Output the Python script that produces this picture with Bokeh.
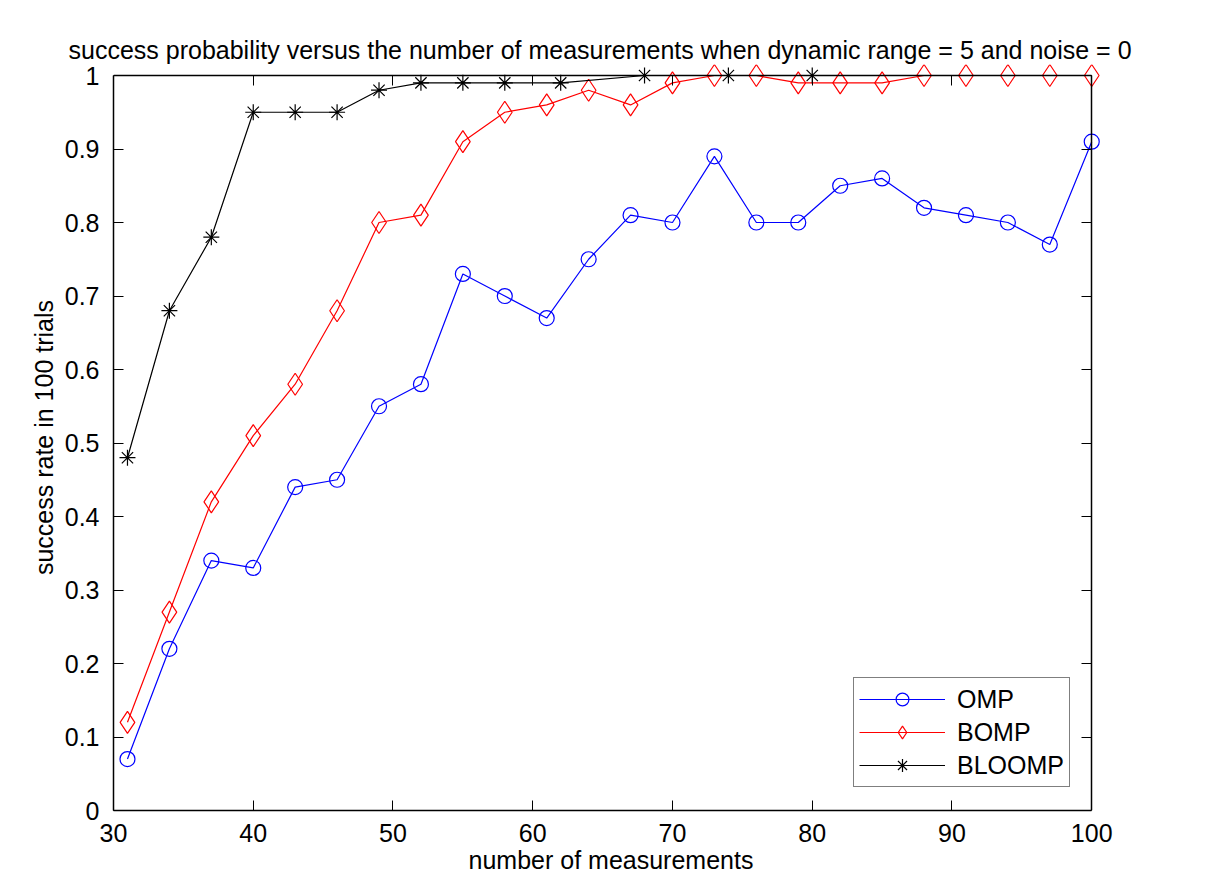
from bokeh.plotting import figure
from bokeh.models import LinearAxis, FixedTicker, Range1d, Legend, LegendItem
from bokeh.embed import file_html
from bokeh.resources import INLINE

title_text = "success probability versus the number of measurements when dynamic range = 5 and noise = 0"
x_label = "number of measurements"
y_label = "success rate in 100 trials"

measurements = [31, 34, 37, 40, 43, 46, 49, 52, 55, 58, 61, 64,
                67, 70, 73, 76, 79, 82, 85, 88, 91, 94, 97, 100]
omp = [0.07, 0.22, 0.34, 0.33, 0.44, 0.45, 0.55, 0.58, 0.73, 0.70, 0.67, 0.75,
       0.81, 0.80, 0.89, 0.80, 0.80, 0.85, 0.86, 0.82, 0.81, 0.80, 0.77, 0.91]
bomp = [0.12, 0.27, 0.42, 0.51, 0.58, 0.68, 0.80, 0.81, 0.91, 0.95, 0.96, 0.98,
        0.96, 0.99, 1.00, 1.00, 0.99, 0.99, 0.99, 1.00, 1.00, 1.00, 1.00, 1.00]
bloomp_measurements = [31, 34, 37, 40, 43, 46, 49, 52, 55, 58, 62, 68, 74, 80]
bloomp = [0.48, 0.68, 0.78, 0.95, 0.95, 0.95, 0.98, 0.99, 0.99, 0.99, 0.99, 1.00, 1.00, 1.00]

series_names = ["OMP", "BOMP", "BLOOMP"]

x_ticks = [30, 40, 50, 60, 70, 80, 90, 100]
x_tick_labels = ["30", "40", "50", "60", "70", "80", "90", "100"]
y_ticks = [0.0, 0.1, 0.2, 0.3, 0.4, 0.5, 0.6, 0.7, 0.8, 0.9, 1.0]
y_tick_labels = ["0", "0.1", "0.2", "0.3", "0.4", "0.5", "0.6", "0.7", "0.8", "0.9", "1"]

FONT = "Liberation Sans"
FS = "25px"

p = figure(width=1208, height=888, output_backend="svg", toolbar_location=None,
           x_range=Range1d(30, 101.2), y_range=Range1d(0, 1.015),
           min_border_left=113, min_border_right=100,
           min_border_top=64, min_border_bottom=78)
p.background_fill_color = "white"
p.border_fill_color = "white"
p.outline_line_color = None
p.xgrid.visible = False
p.ygrid.visible = False

p.title.text = title_text
p.title.align = "left"
p.title.offset = -45
p.title.text_font = FONT
p.title.text_font_size = FS
p.title.text_font_style = "normal"
p.title.text_color = "black"
p.title.standoff = 2


def style_axis(ax):
    ax.axis_line_color = "black"
    ax.axis_line_width = 1.5
    ax.major_tick_line_color = "black"
    ax.major_tick_line_width = 1
    ax.major_tick_in = 10
    ax.major_tick_out = 0
    ax.minor_tick_line_color = None
    ax.major_label_text_font = FONT
    ax.major_label_text_font_size = FS
    ax.major_label_text_color = "black"
    ax.axis_label_text_font = FONT
    ax.axis_label_text_font_size = FS
    ax.axis_label_text_font_style = "normal"
    ax.axis_label_text_color = "black"


xa = p.xaxis[0]
style_axis(xa)
xa.ticker = FixedTicker(ticks=x_ticks)
xa.major_label_overrides = dict(zip(x_ticks, x_tick_labels))
xa.bounds = (30, 100)
xa.axis_label = x_label
xa.major_label_standoff = 13
xa.axis_label_standoff = 1

ya = p.yaxis[0]
style_axis(ya)
ya.ticker = FixedTicker(ticks=y_ticks)
ya.major_label_overrides = dict(zip(y_ticks, y_tick_labels))
ya.bounds = (0, 1)
ya.axis_label = y_label
ya.major_label_standoff = 14
ya.axis_label_standoff = 4

top = LinearAxis(fixed_location=1.0, bounds=(30, 100), ticker=FixedTicker(ticks=x_ticks),
                 major_label_overrides={t: "" for t in x_ticks})
style_axis(top)
top.major_label_standoff = 0
p.add_layout(top, "above")

right = LinearAxis(fixed_location=100, bounds=(0, 1), ticker=FixedTicker(ticks=y_ticks),
                   major_label_overrides={t: "" for t in y_ticks})
style_axis(right)
right.major_label_standoff = 0
p.add_layout(right, "right")

LW = 1.2
l1 = p.line(measurements, omp, line_color="blue", line_width=LW)
s1 = p.scatter(measurements, omp, marker="circle", size=15, fill_color=None,
               line_color="blue", line_width=LW)
l2 = p.line(measurements, bomp, line_color="red", line_width=LW)
s2 = p.scatter(measurements, bomp, marker="diamond", size=22, fill_color=None,
               line_color="red", line_width=LW)
l3 = p.line(bloomp_measurements, bloomp, line_color="black", line_width=LW)
s3 = p.scatter(bloomp_measurements, bloomp, marker="asterisk", size=16,
               line_color="black", line_width=LW)

legend = Legend(items=[LegendItem(label=series_names[0], renderers=[l1, s1]),
                       LegendItem(label=series_names[1], renderers=[l2, s2]),
                       LegendItem(label=series_names[2], renderers=[l3, s3])],
                location=(740, 23))
legend.label_text_font = FONT
legend.label_text_font_size = FS
legend.label_text_color = "black"
legend.border_line_color = "black"
legend.border_line_width = 1
legend.background_fill_color = "white"
legend.background_fill_alpha = 1
legend.padding = 5
legend.spacing = 1
legend.glyph_width = 86
legend.glyph_height = 32
legend.label_height = 32
legend.label_standoff = 12
legend.margin = 0
p.add_layout(legend)

open("out.html", "w").write(file_html(p, INLINE))
